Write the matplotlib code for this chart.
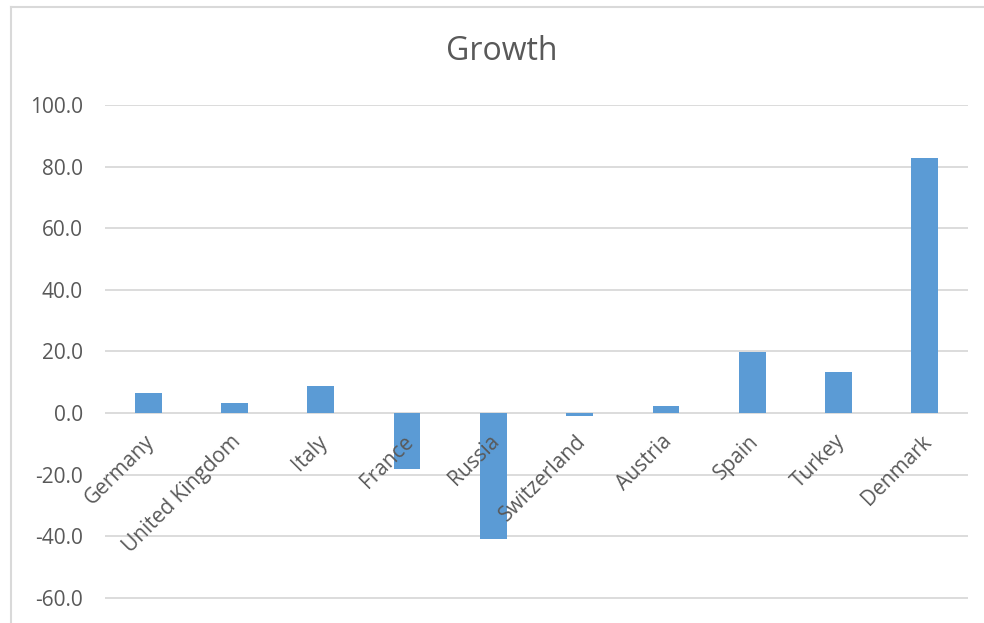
import matplotlib
matplotlib.use("Agg")
import matplotlib.pyplot as plt
from matplotlib.lines import Line2D

plt.rcParams['font.family'] = ['Open Sans', 'DejaVu Sans']

# data
countries = ['Germany', 'United Kingdom', 'Italy', 'France', 'Russia',
             'Switzerland', 'Austria', 'Spain', 'Turkey', 'Denmark']
growth = [6.5, 3.3, 8.8, -18.2, -40.9, -1.0, 2.3, 19.8, 13.3, 82.8]
yticks = [-60, -40, -20, 0, 20, 40, 60, 80, 100]

grey = '#595959'
W, H = 984, 623

fig = plt.figure(figsize=(W / 100, H / 100), dpi=100)
# axes: x from 105 to 968 px, y top (100) at 105 px, bottom of image = -68.2
ax = fig.add_axes([105 / W, 0, (968 - 105) / W, (H - 105) / H])

x = range(len(countries))
ax.bar(x, growth, width=0.31, color='#5B9BD5', zorder=3)

ax.set_xlim(-0.5, len(countries) - 0.5)
ax.set_ylim(-68.2, 100)
ax.set_yticks(yticks)
ax.set_yticklabels([f'{v:.1f}' for v in yticks])
ax.set_xticks([])
ax.tick_params(axis='y', length=0, pad=16, labelsize=15, labelcolor=grey)
ax.grid(axis='y', color='#d9d9d9', linewidth=1.3, zorder=0)
for s in ax.spines.values():
    s.set_visible(False)

# category labels sit at the zero line, rotated
for i, name in enumerate(countries):
    ax.annotate(name, (i, 0), xytext=(-3, -13), textcoords='offset points',
                rotation=45, rotation_mode='anchor', ha='right', va='top',
                fontsize=15, color=grey, zorder=4)

fig.text(502 / W, 1 - 51 / H, 'Growth', ha='center', va='center',
         fontsize=23, color=grey)

# chart area border (left and top edges visible)
fig.add_artist(Line2D([10.5 / W, 10.5 / W], [0, 1 - 7 / H],
                      transform=fig.transFigure, color='#d9d9d9', lw=1.5))
fig.add_artist(Line2D([10.5 / W, 1], [1 - 7 / H, 1 - 7 / H],
                      transform=fig.transFigure, color='#d9d9d9', lw=1.5))

fig.savefig('out.png', dpi=100, facecolor='white')
